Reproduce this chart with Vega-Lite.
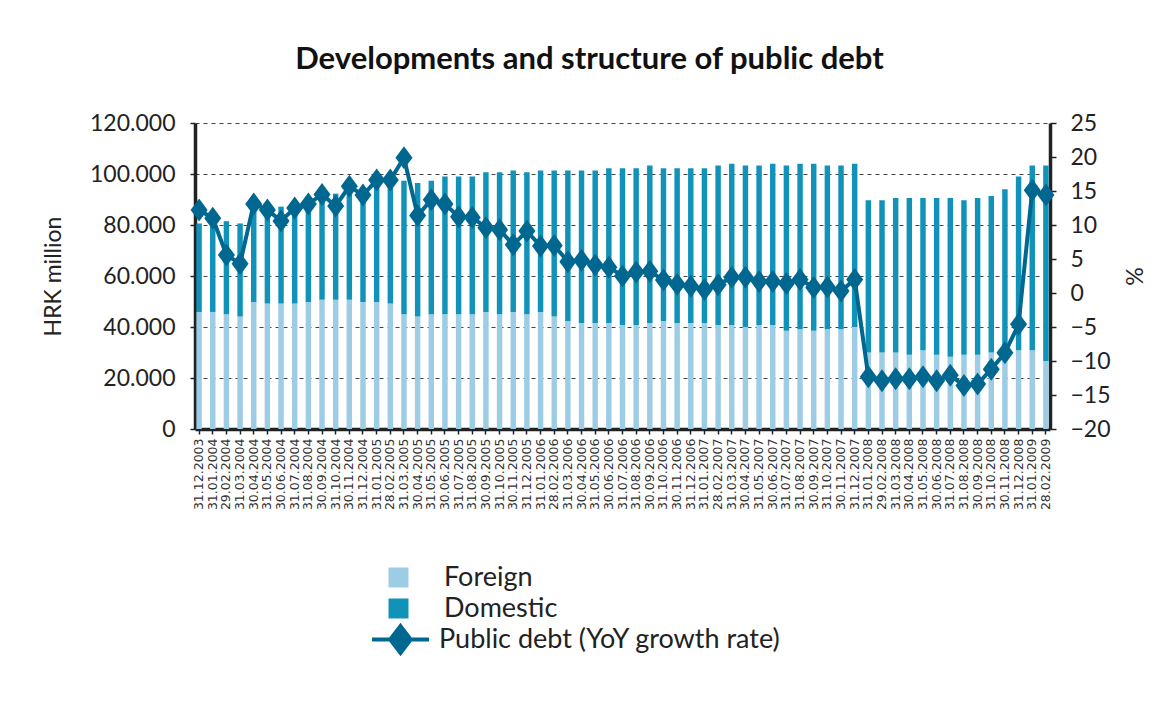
{
  "$schema": "https://vega.github.io/schema/vega-lite/v6.json",
  "width": 855,
  "height": 306,
  "autosize": {"type": "none"},
  "padding": {"left": 195, "top": 123, "right": 123, "bottom": 281},
  "background": "white",
  "title": {"text": "Developments and structure of public debt", "font": "Lato", "fontSize": 31, "fontWeight": "bold", "color": "#111111", "anchor": "middle", "offset": 36, "dx": -33},
  "data": {"values": [
    {"date": "31.12.2003", "Foreign": 45900, "Domestic": 34700, "growth": 12.2},
    {"date": "31.01.2004", "Foreign": 45900, "Domestic": 35500, "growth": 11.0},
    {"date": "29.02.2004", "Foreign": 45000, "Domestic": 36500, "growth": 5.6},
    {"date": "31.03.2004", "Foreign": 44100, "Domestic": 36500, "growth": 4.3},
    {"date": "30.04.2004", "Foreign": 49800, "Domestic": 36800, "growth": 13.1},
    {"date": "31.05.2004", "Foreign": 49200, "Domestic": 36500, "growth": 12.2},
    {"date": "30.06.2004", "Foreign": 49200, "Domestic": 38000, "growth": 10.6},
    {"date": "31.07.2004", "Foreign": 49200, "Domestic": 39800, "growth": 12.5},
    {"date": "31.08.2004", "Foreign": 49800, "Domestic": 39300, "growth": 13.1},
    {"date": "30.09.2004", "Foreign": 50700, "Domestic": 41200, "growth": 14.5},
    {"date": "31.10.2004", "Foreign": 50700, "Domestic": 41600, "growth": 12.8},
    {"date": "30.11.2004", "Foreign": 50700, "Domestic": 44000, "growth": 15.7},
    {"date": "31.12.2004", "Foreign": 49800, "Domestic": 42500, "growth": 14.4},
    {"date": "31.01.2005", "Foreign": 49800, "Domestic": 45100, "growth": 16.6},
    {"date": "28.02.2005", "Foreign": 49200, "Domestic": 45600, "growth": 16.6},
    {"date": "31.03.2005", "Foreign": 45000, "Domestic": 52400, "growth": 19.9},
    {"date": "30.04.2005", "Foreign": 44100, "Domestic": 52400, "growth": 11.4},
    {"date": "31.05.2005", "Foreign": 45000, "Domestic": 52400, "growth": 13.7},
    {"date": "30.06.2005", "Foreign": 45000, "Domestic": 54000, "growth": 13.1},
    {"date": "31.07.2005", "Foreign": 45000, "Domestic": 54000, "growth": 11.2},
    {"date": "31.08.2005", "Foreign": 45000, "Domestic": 54000, "growth": 11.1},
    {"date": "30.09.2005", "Foreign": 45900, "Domestic": 54800, "growth": 9.6},
    {"date": "31.10.2005", "Foreign": 45000, "Domestic": 55700, "growth": 9.3},
    {"date": "30.11.2005", "Foreign": 45900, "Domestic": 55500, "growth": 7.1},
    {"date": "31.12.2005", "Foreign": 45000, "Domestic": 55700, "growth": 9.1},
    {"date": "31.01.2006", "Foreign": 45900, "Domestic": 55500, "growth": 6.9},
    {"date": "28.02.2006", "Foreign": 44100, "Domestic": 57300, "growth": 7.0},
    {"date": "31.03.2006", "Foreign": 42400, "Domestic": 59000, "growth": 4.6},
    {"date": "30.04.2006", "Foreign": 41600, "Domestic": 59800, "growth": 4.8},
    {"date": "31.05.2006", "Foreign": 41600, "Domestic": 59800, "growth": 4.1},
    {"date": "30.06.2006", "Foreign": 41600, "Domestic": 60700, "growth": 3.8},
    {"date": "31.07.2006", "Foreign": 40800, "Domestic": 61500, "growth": 2.5},
    {"date": "31.08.2006", "Foreign": 40800, "Domestic": 61500, "growth": 3.1},
    {"date": "30.09.2006", "Foreign": 41600, "Domestic": 61700, "growth": 3.2},
    {"date": "31.10.2006", "Foreign": 42400, "Domestic": 59900, "growth": 1.9},
    {"date": "30.11.2006", "Foreign": 41600, "Domestic": 60700, "growth": 1.3},
    {"date": "31.12.2006", "Foreign": 41600, "Domestic": 60700, "growth": 1.0},
    {"date": "31.01.2007", "Foreign": 41600, "Domestic": 60700, "growth": 0.5},
    {"date": "28.02.2007", "Foreign": 40800, "Domestic": 62500, "growth": 1.2},
    {"date": "31.03.2007", "Foreign": 40800, "Domestic": 63200, "growth": 2.3},
    {"date": "30.04.2007", "Foreign": 40000, "Domestic": 63300, "growth": 2.3},
    {"date": "31.05.2007", "Foreign": 40800, "Domestic": 62500, "growth": 1.7},
    {"date": "30.06.2007", "Foreign": 40800, "Domestic": 63200, "growth": 1.7},
    {"date": "31.07.2007", "Foreign": 38500, "Domestic": 64800, "growth": 1.4},
    {"date": "31.08.2007", "Foreign": 39100, "Domestic": 64900, "growth": 2.0},
    {"date": "30.09.2007", "Foreign": 38500, "Domestic": 65500, "growth": 0.8},
    {"date": "31.10.2007", "Foreign": 39100, "Domestic": 64200, "growth": 0.9},
    {"date": "30.11.2007", "Foreign": 39100, "Domestic": 64200, "growth": 0.3},
    {"date": "31.12.2007", "Foreign": 40000, "Domestic": 64000, "growth": 2.0},
    {"date": "31.01.2008", "Foreign": 30000, "Domestic": 59700, "growth": -12.3},
    {"date": "29.02.2008", "Foreign": 30000, "Domestic": 59700, "growth": -12.9},
    {"date": "31.03.2008", "Foreign": 30000, "Domestic": 60600, "growth": -12.6},
    {"date": "30.04.2008", "Foreign": 29100, "Domestic": 61500, "growth": -12.6},
    {"date": "31.05.2008", "Foreign": 30900, "Domestic": 59700, "growth": -12.3},
    {"date": "30.06.2008", "Foreign": 29100, "Domestic": 61500, "growth": -12.9},
    {"date": "31.07.2008", "Foreign": 28300, "Domestic": 62300, "growth": -12.1},
    {"date": "31.08.2008", "Foreign": 29100, "Domestic": 60600, "growth": -13.6},
    {"date": "30.09.2008", "Foreign": 29100, "Domestic": 61500, "growth": -13.4},
    {"date": "31.10.2008", "Foreign": 30000, "Domestic": 61400, "growth": -11.2},
    {"date": "30.11.2008", "Foreign": 30000, "Domestic": 64000, "growth": -8.8},
    {"date": "31.12.2008", "Foreign": 30900, "Domestic": 68100, "growth": -4.6},
    {"date": "31.01.2009", "Foreign": 30900, "Domestic": 72400, "growth": 15.1},
    {"date": "28.02.2009", "Foreign": 26700, "Domestic": 76600, "growth": 14.4}
  ]},
  "encoding": {
    "x": {
      "field": "date", "type": "ordinal", "sort": null,
      "scale": {"paddingInner": 0.6, "paddingOuter": 0.1},
      "axis": {"title": null, "labelAngle": -90, "labelFont": "DejaVu Sans", "labelFontSize": 12.5, "labelColor": "#333333", "labelPadding": 4, "tickSize": 5, "tickColor": "#222222", "tickWidth": 1.5, "domainColor": "#222222", "domainWidth": 3.5, "grid": false}
    }
  },
  "layer": [
    {
      "transform": [{"fold": ["Foreign", "Domestic"], "as": ["part", "value"]}],
      "mark": {"type": "bar"},
      "encoding": {
        "y": {
          "field": "value", "type": "quantitative", "stack": "zero",
          "scale": {"domain": [0, 120000], "nice": false},
          "axis": {"title": "HRK million", "titleFont": "Lato", "titleFontSize": 23, "titleFontWeight": "normal", "titleColor": "#222222", "titlePadding": 24,
            "values": [0, 20000, 40000, 60000, 80000, 100000, 120000],
            "labelExpr": "replace(format(datum.value, ',.0f'), ',', '.')",
            "labelFont": "Lato", "labelFontSize": 23, "labelColor": "#222222", "labelPadding": 15,
            "tickSize": 5, "tickColor": "#222222", "tickWidth": 1.5,
            "domainColor": "#222222", "domainWidth": 3.5,
            "grid": true, "gridColor": "#444444", "gridDash": [4, 4], "gridWidth": 1}
        },
        "color": {
          "field": "part", "type": "nominal",
          "scale": {"domain": ["Foreign", "Domestic"], "range": ["#9dcde4", "#1193b9"]},
          "legend": {"title": null, "orient": "none", "legendX": 190, "legendY": 441, "symbolType": "square", "symbolSize": 400, "symbolStrokeWidth": 0, "labelFont": "Lato", "labelFontSize": 27, "labelColor": "#222222", "labelOffset": 32, "rowPadding": 3}
        },
        "order": {"field": "part", "sort": "descending"}
      }
    },
    {
      "encoding": {
        "y": {
          "field": "growth", "type": "quantitative",
          "scale": {"domain": [-20, 25], "nice": false},
          "axis": {"orient": "right", "title": "%", "titleFont": "Lato", "titleFontSize": 23, "titleFontWeight": "normal", "titleColor": "#222222", "titlePadding": 10,
            "values": [-20, -15, -10, -5, 0, 5, 10, 15, 20, 25],
            "labelFont": "Lato", "labelFontSize": 23, "labelColor": "#222222", "labelPadding": 14,
            "tickSize": 6, "tickColor": "#222222", "tickWidth": 1.5,
            "domainColor": "#222222", "domainWidth": 3.5, "grid": false}
        }
      },
      "layer": [
        {
          "mark": {"type": "line", "strokeWidth": 4},
          "encoding": {
            "stroke": {
              "datum": "Public debt (YoY growth rate)",
              "scale": {"range": ["#006890"]},
              "legend": {"title": null, "orient": "none", "legendX": 175, "legendY": 486, "symbolType": "M-1,0H1M0,-0.47L0.36,0L0,0.47L-0.36,0Z", "symbolSize": 3249, "symbolStrokeWidth": 4, "labelFont": "Lato", "labelFontSize": 27, "labelColor": "#222222", "labelOffset": 8, "labelLimit": 0,
                "encode": {"symbols": {"update": {"fill": {"value": "#006890"}, "stroke": {"value": "#006890"}}}}}
            }
          }
        },
        {
          "mark": {"type": "point", "shape": "M0,-1L0.74,0L0,1L-0.74,0Z", "size": 529, "filled": true, "color": "#006890", "opacity": 1}
        }
      ]
    }
  ],
  "resolve": {"scale": {"y": "independent"}},
  "config": {"view": {"stroke": null}}
}
